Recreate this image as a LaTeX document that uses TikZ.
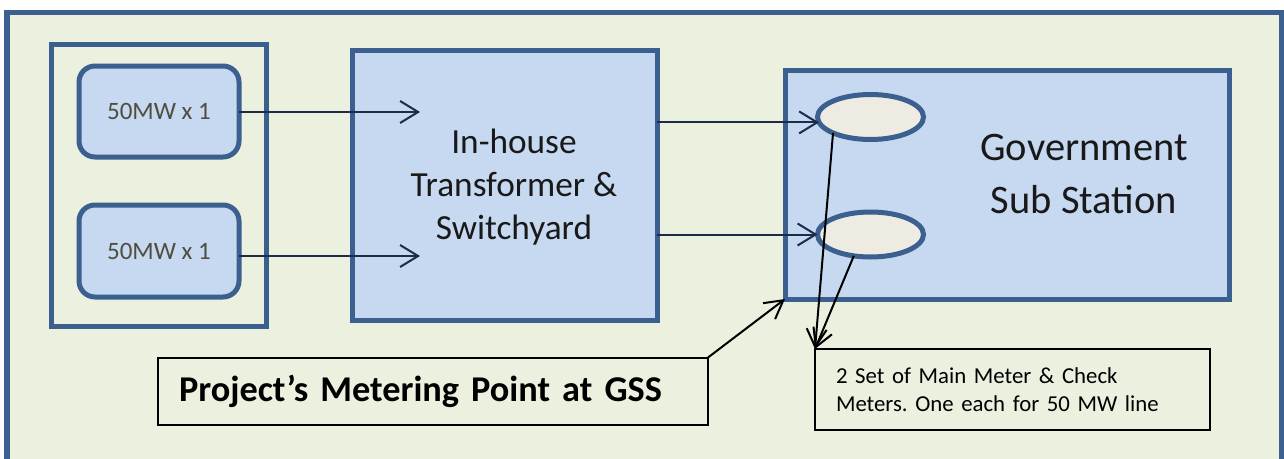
\documentclass[tikz,border=0pt]{standalone}
\usepackage{fontspec}
\setmainfont{Carlito}
\usetikzlibrary{arrows.meta,shapes.geometric}

\definecolor{frameblue}{HTML}{3B5F8E}
\definecolor{panelgreen}{HTML}{EBF0DF}
\definecolor{boxblue}{HTML}{C6D9F1}
\definecolor{meterfill}{HTML}{EEECE2}
\definecolor{linknavy}{HTML}{1C2B48}
\definecolor{labelgray}{HTML}{4F4D3F}

\begin{document}
\frenchspacing
\begin{tikzpicture}[x=1pt,y=-1pt,
  every node/.style={inner sep=0pt, outer sep=0pt},
  groupbox/.style={draw=frameblue, line width=5pt, fill=panelgreen, rectangle},
  unitbox/.style={draw=frameblue, line width=5pt, fill=boxblue, rectangle,
    rounded corners=16pt, minimum width=160pt, text=labelgray,
    font=\fontsize{25}{30}\selectfont},
  bluebox/.style={draw=frameblue, line width=5pt, fill=boxblue, rectangle},
  meter/.style={draw=frameblue, line width=5pt, fill=meterfill, ellipse,
    minimum width=106pt, minimum height=45pt},
  notebox/.style={draw=black, line width=2pt, fill=panelgreen, rectangle,
    align=left, inner xsep=21pt},
  feed/.style={draw=linknavy, line width=2pt,
    -{Straight Barb[length=18pt,width=22pt,line width=2pt]}},
  pointer/.style={draw=black, line width=2pt,
    -{Straight Barb[length=18pt,width=20pt,line width=2pt]}},
]
\useasboundingbox (0,0) rectangle (1284,458);
\fill[white] (0,0) rectangle (1284,458);

% outer panel, open at the bottom edge
\draw[draw=frameblue, line width=5.5pt, fill=panelgreen] (7,12.5) rectangle (1282,480);

% generating units
\node[groupbox, minimum width=215pt, minimum height=282pt] (plant) at (158.5,185) {};
\node[unitbox, minimum height=91pt] (unit1) at (159,111.5) {50MW x 1};
\node[unitbox, minimum height=92pt] (unit2) at (159,251) {50MW x 1};

% transformer and switchyard
\node[bluebox, minimum width=305pt, minimum height=270pt] (trafo) at (504.5,185) {};
\node[align=center, font=\fontsize{35.3}{43}\selectfont, text=black!90] (trafotext) at (514,187)
  {In-house\\Transformer \&\\Switchyard};

% government sub station with its two meters
\node[bluebox, minimum width=444pt, minimum height=229pt] (gss) at (1007,184.5) {};
\node[align=center, font=\fontsize{40.5}{53.7}\selectfont, text=black!90] (gsstext) at (1084,174)
  {Government\\Sub Station};
\node[meter] (m1) at (870.5,117) {};
\node[meter] (m2) at (870.5,234.5) {};

% callouts
\node[notebox, text width=353pt, minimum height=81pt,
  font=\fontsize{22.8}{28.5}\selectfont] (note) at (1012.5,389.5)
  {2 Set of Main Meter \& Check\\Meters. One each for 50 MW line};
\node[notebox, text width=508pt, minimum height=67pt,
  font=\bfseries\fontsize{36.3}{40}\selectfont] (proj) at (433,391)
  {Project’s Metering Point at GSS};

% feeders into the transformer
\coordinate (t1) at (420,112);
\coordinate (t2) at (420,256);
\draw[feed] (unit1.east |- t1) -- (t1);
\draw[feed] (unit2.east |- t2) -- (t2);

% lines from the transformer to the meters
\draw[feed] (trafo.east |- m1.186) -- (m1.186);
\draw[feed] (trafo.east |- m2.west) -- (m2.west);

% pointers
\draw[pointer] (m1.203) -- (note.north west);
\draw[pointer] (m2.232) -- (note.north west);
\draw[pointer] (proj.north east) -- (gss.south west);
\end{tikzpicture}
\end{document}
